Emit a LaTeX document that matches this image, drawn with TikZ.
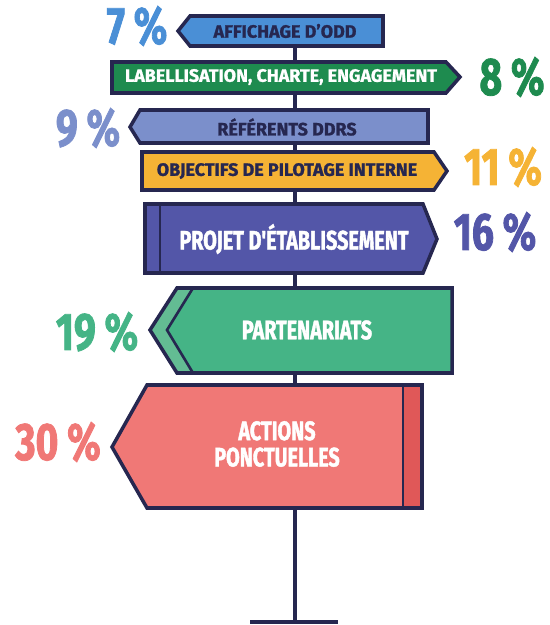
\documentclass[tikz,border=0pt]{standalone}
\usepackage{fontspec}
\setmainfont{Fira Sans}[BoldFeatures={FakeBold=1.2}]
\newfontfamily\condfont{Fira Sans}[FakeStretch=0.74, BoldFeatures={FakeBold=1.5}]
\usepackage{tikz}

\definecolor{navy}{HTML}{262750}
\definecolor{oddblue}{HTML}{4A8FD6}
\definecolor{labgreen}{HTML}{1E8B4F}
\definecolor{ddrsblue}{HTML}{7B8FCB}
\definecolor{pilotorange}{HTML}{F5B335}
\definecolor{projpurple}{HTML}{5356A8}
\definecolor{partgreen}{HTML}{45B486}
\definecolor{partlight}{HTML}{63BC93}
\definecolor{actred}{HTML}{F07876}
\definecolor{actdark}{HTML}{E05858}

\tikzset{
  panel/.style={draw=navy, line width=2pt, line join=miter},
  smalltxt/.style={text=navy, font=\fontsize{10.2}{11}\selectfont\bfseries, inner sep=0pt},
  bigtxt/.style={text=white, font=\condfont\fontsize{15.2}{15}\selectfont\bfseries, inner sep=0pt, align=center},
  pcttxt/.style={font=\condfont\fontsize{30}{31}\selectfont\bfseries, inner sep=0pt},
}

\begin{document}
\begin{tikzpicture}[x=0.02cm, y=-0.02cm]
  \useasboundingbox (0,0) rectangle (549,625);
  % pole and foot
  \coordinate (top) at (295,46);
  \coordinate (foot) at (295,622);
  \coordinate (footL) at (250,622);
  \coordinate (footR) at (338,622);
  \draw[navy, line width=2.2pt] (top) -- (foot);
  \draw[navy, line width=2.2pt] (footL) -- (footR);

  % affichage
  \filldraw[panel, fill=oddblue] (190,16) -- (383,16) -- (383,46) -- (190,46) -- (178,31) -- cycle;
  \node[smalltxt] (odd) at (285,31) {AFFICHAGE D'ODD};
  \node[pcttxt, text=oddblue] (oddpct) at (137,26) {7\,\%};

  % labellisation
  \filldraw[panel, fill=labgreen] (112,62) -- (446,62) -- (460,77) -- (446,93) -- (112,93) -- cycle;
  \node[smalltxt, text=white] (label) at (281,77) {LABELLISATION, CHARTE, ENGAGEMENT};
  \node[pcttxt, text=labgreen] (labelpct) at (512,77) {8\,\%};

  % referents
  \filldraw[panel, fill=ddrsblue] (140,110) -- (428,110) -- (428,143) -- (140,143) -- (130,127) -- cycle;
  \node[smalltxt] (ddrs) at (287,127) {RÉFÉRENTS DDRS};
  \node[pcttxt, text=ddrsblue] (ddrspct) at (88,128) {9\,\%};

  % pilotage
  \filldraw[panel, fill=pilotorange] (142,152) -- (434,152) -- (447,171) -- (434,190) -- (142,190) -- cycle;
  \node[smalltxt] (pilot) at (287,171) {OBJECTIFS DE PILOTAGE INTERNE};
  \node[pcttxt, text=pilotorange] (pilotpct) at (503,167) {11\,\%};

  % projet
  \filldraw[panel, fill=projpurple] (145,204) -- (423,204) -- (437,239) -- (423,273) -- (145,273) -- cycle;
  \draw[navy, line width=1.5pt] (160,204) -- (160,273);
  \node[bigtxt] (projet) at (294,239) {PROJET D'ÉTABLISSEMENT};
  \node[pcttxt, text=projpurple] (projetpct) at (495,232) {16\,\%};

  % partenariats
  \fill[partlight] (177,288) -- (452,288) -- (452,373) -- (177,373) -- (150,330) -- cycle;
  \fill[partgreen] (193,288) -- (452,288) -- (452,373) -- (193,373) -- (167,330) -- cycle;
  \draw[navy, line width=1.5pt] (193,288) -- (167,330) -- (193,373);
  \draw[panel] (177,288) -- (452,288) -- (452,373) -- (177,373) -- (150,330) -- cycle;
  \node[bigtxt] (parten) at (307,330) {PARTENARIATS};
  \node[pcttxt, text=partgreen] (partenpct) at (97,332) {19\,\%};

  % actions
  \fill[actred] (147,385) -- (422,385) -- (422,508) -- (147,508) -- (112,447) -- cycle;
  \fill[actdark] (403,385) rectangle (422,508);
  \draw[navy, line width=1.5pt] (403,385) -- (403,508);
  \draw[panel] (147,385) -- (422,385) -- (422,508) -- (147,508) -- (112,447) -- cycle;
  \node[bigtxt] (actions) at (277,444) {ACTIONS\\PONCTUELLES};
  \node[pcttxt, text=actred] (actionspct) at (58,442) {30\,\%};
\end{tikzpicture}
\end{document}
